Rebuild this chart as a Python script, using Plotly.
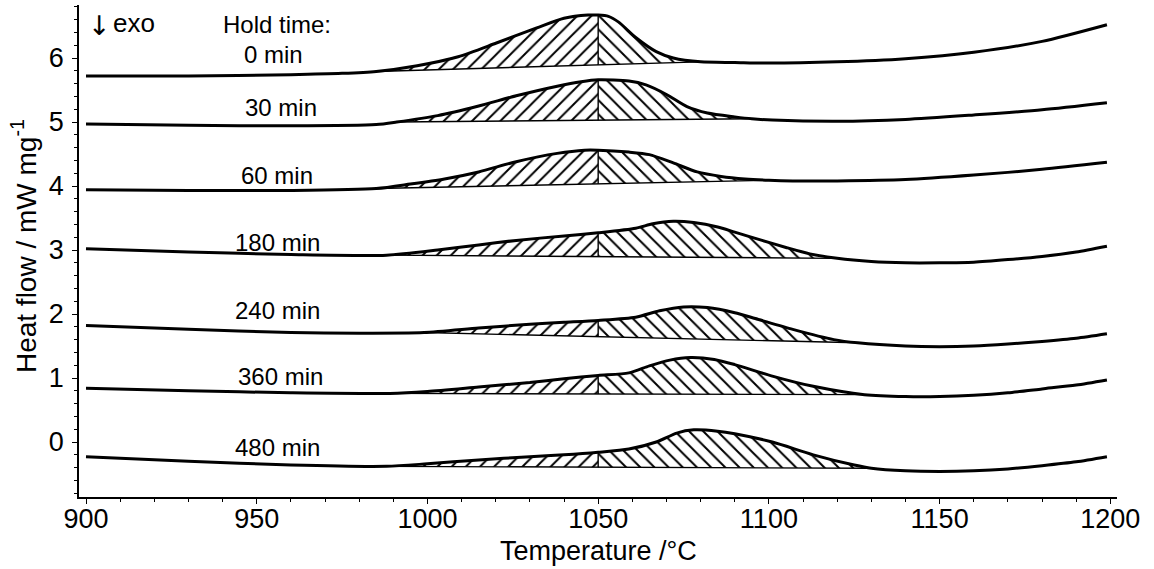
import plotly.graph_objects as go

# ---------------- data ----------------
hold_labels = ["0 min", "30 min", "60 min", "180 min", "240 min", "360 min", "480 min"]

t_0 = [900, 930, 960, 975, 985, 997, 1009, 1020, 1032, 1040, 1047, 1050, 1053, 1056, 1061, 1067, 1072, 1080, 1090, 1100, 1120, 1140, 1160, 1180, 1199]
hf_0 = [5.72, 5.72, 5.74, 5.76, 5.79, 5.88, 6.02, 6.23, 6.47, 6.62, 6.67, 6.67, 6.65, 6.56, 6.32, 6.10, 6.00, 5.94, 5.93, 5.92, 5.94, 5.99, 6.09, 6.26, 6.52]

t_30 = [900, 930, 960, 985, 991, 1003, 1015, 1026, 1038, 1045, 1050, 1059, 1064, 1070, 1076, 1082, 1090, 1095, 1101, 1120, 1140, 1160, 1180, 1199]
hf_30 = [4.97, 4.95, 4.94, 4.96, 5.00, 5.10, 5.25, 5.41, 5.56, 5.63, 5.66, 5.64, 5.58, 5.43, 5.24, 5.14, 5.08, 5.05, 5.03, 5.01, 5.04, 5.11, 5.19, 5.30]

t_60 = [900, 930, 960, 985, 995, 1005, 1015, 1026, 1038, 1046, 1050, 1059, 1065, 1072, 1079, 1086, 1093, 1100, 1107, 1120, 1140, 1160, 1180, 1199]
hf_60 = [3.94, 3.93, 3.93, 3.96, 4.03, 4.11, 4.22, 4.38, 4.51, 4.56, 4.56, 4.53, 4.49, 4.36, 4.22, 4.15, 4.11, 4.09, 4.08, 4.08, 4.10, 4.17, 4.26, 4.37]

t_180 = [900, 930, 960, 988, 1003, 1015, 1026, 1040, 1050, 1061, 1066, 1072, 1078, 1085, 1090, 1098, 1105, 1112, 1120, 1130, 1140, 1150, 1160, 1170, 1180, 1190, 1199]
hf_180 = [3.02, 2.97, 2.93, 2.92, 3.00, 3.08, 3.15, 3.22, 3.27, 3.34, 3.41, 3.45, 3.43, 3.36, 3.28, 3.15, 3.04, 2.94, 2.87, 2.82, 2.80, 2.80, 2.81, 2.85, 2.90, 2.97, 3.06]

t_240 = [900, 930, 960, 980, 999, 1015, 1030, 1040, 1050, 1061, 1068, 1075, 1082, 1090, 1096, 1107, 1119, 1126, 1140, 1150, 1160, 1170, 1180, 1190, 1199]
hf_240 = [1.82, 1.76, 1.71, 1.70, 1.71, 1.78, 1.84, 1.87, 1.90, 1.95, 2.05, 2.11, 2.10, 2.02, 1.93, 1.76, 1.60, 1.55, 1.50, 1.49, 1.50, 1.53, 1.57, 1.62, 1.69]

t_360 = [900, 930, 960, 989, 1000, 1015, 1030, 1040, 1050, 1059, 1065, 1071, 1077, 1084, 1090, 1101, 1113, 1128, 1140, 1150, 1160, 1170, 1180, 1190, 1199]
hf_360 = [0.84, 0.80, 0.77, 0.76, 0.79, 0.86, 0.93, 0.99, 1.04, 1.08, 1.19, 1.28, 1.32, 1.29, 1.21, 1.03, 0.87, 0.74, 0.71, 0.71, 0.73, 0.77, 0.83, 0.89, 0.97]

t_480 = [900, 930, 960, 988, 1000, 1015, 1030, 1040, 1050, 1059, 1067, 1073, 1078, 1085, 1090, 1101, 1113, 1125, 1130, 1140, 1150, 1160, 1170, 1180, 1190, 1199]
hf_480 = [-0.23, -0.30, -0.36, -0.38, -0.34, -0.28, -0.23, -0.20, -0.16, -0.11, 0.00, 0.14, 0.19, 0.17, 0.13, 0.00, -0.20, -0.36, -0.41, -0.45, -0.46, -0.45, -0.42, -0.37, -0.31, -0.23]

# integration limits (temperatures where the straight baseline meets the curve)
onset_t = [985, 991, 985, 988, 999, 989, 988]
end_t = [1080, 1095, 1100, 1120, 1126, 1128, 1130]
split_t = 1050

# label anchor positions (temperature, heat flow)
label_x = [955, 957, 956, 956, 956, 957, 956]
label_y = [6.06, 5.23, 4.17, 3.11, 2.05, 1.03, -0.09]

curves = [(t_0, hf_0), (t_30, hf_30), (t_60, hf_60), (t_180, hf_180),
          (t_240, hf_240), (t_360, hf_360), (t_480, hf_480)]

FONT = "Liberation Sans, Arial, sans-serif"

fig = go.Figure()

for (ts, hs), t_on, t_end in zip(curves, onset_t, end_t):
    y_on = hs[ts.index(t_on)]
    y_end = hs[ts.index(t_end)]

    def base(t):
        return y_on + (t - t_on) * (y_end - y_on) / (t_end - t_on)

    y_split = hs[ts.index(split_t)]
    # left part (hatched "/")
    lx = [t for t in ts if t_on <= t <= split_t]
    ly = [h for t, h in zip(ts, hs) if t_on <= t <= split_t]
    fig.add_trace(go.Scatter(
        x=lx + [split_t, t_on], y=ly + [base(split_t), y_on],
        mode="lines", fill="toself", line=dict(width=0, color="rgba(0,0,0,0)"),
        fillcolor="white",
        fillpattern=dict(shape="/", fgcolor="black", bgcolor="white", size=10,
                         solidity=0.2, fgopacity=1),
        hoverinfo="skip", showlegend=False))
    # right part (hatched "\")
    rx = [t for t in ts if split_t <= t <= t_end]
    ry = [h for t, h in zip(ts, hs) if split_t <= t <= t_end]
    fig.add_trace(go.Scatter(
        x=rx + [t_end, split_t], y=ry + [y_end, base(split_t)],
        mode="lines", fill="toself", line=dict(width=0, color="rgba(0,0,0,0)"),
        fillcolor="white",
        fillpattern=dict(shape="\\", fgcolor="black", bgcolor="white", size=10,
                         solidity=0.2, fgopacity=1),
        hoverinfo="skip", showlegend=False))
    # baseline
    fig.add_trace(go.Scatter(x=[t_on, t_end], y=[y_on, y_end], mode="lines",
                             line=dict(color="black", width=1.4),
                             hoverinfo="skip", showlegend=False))
    # split line at 1050 °C
    fig.add_trace(go.Scatter(x=[split_t, split_t], y=[base(split_t), y_split], mode="lines",
                             line=dict(color="black", width=1.4),
                             hoverinfo="skip", showlegend=False))
    # DSC curve
    fig.add_trace(go.Scatter(x=ts, y=hs, mode="lines",
                             line=dict(color="black", width=3, shape="spline", smoothing=0.7),
                             showlegend=False))

annotations = []
for lab, lx_, ly_ in zip(hold_labels, label_x, label_y):
    annotations.append(dict(x=lx_, y=ly_, xref="x", yref="y", text=lab, showarrow=False,
                            xanchor="center", yanchor="middle",
                            font=dict(family=FONT, size=24, color="black")))
annotations.append(dict(x=956, y=6.53, xref="x", yref="y", text="Hold time:", showarrow=False,
                        xanchor="center", yanchor="middle",
                        font=dict(family=FONT, size=24, color="black")))
annotations.append(dict(x=900.0, y=6.5, xref="x", yref="y", text="\u2193", showarrow=False,
                        xanchor="left", yanchor="middle",
                        font=dict(family="DejaVu Sans", size=27, color="black")))
annotations.append(dict(x=907.2, y=6.55, xref="x", yref="y", text="exo", showarrow=False,
                        xanchor="left", yanchor="middle",
                        font=dict(family=FONT, size=26, color="black")))
annotations.append(dict(x=0.5, y=-0.109, xref="paper", yref="paper", text="Temperature /°C",
                        showarrow=False, xanchor="center", yanchor="middle",
                        font=dict(family=FONT, size=27, color="black")))
annotations.append(dict(x=-0.053, y=0.51, xref="paper", yref="paper",
                        text="Heat flow / mW mg<sup>-1</sup>", textangle=-90,
                        showarrow=False, xanchor="center", yanchor="middle",
                        font=dict(family=FONT, size=28, color="black")))

fig.update_layout(
    width=1154, height=569,
    margin=dict(l=79, r=37, t=5, b=72),
    paper_bgcolor="white", plot_bgcolor="white",
    annotations=annotations,
    xaxis=dict(range=[897.95, 1201.95], tickvals=[900, 950, 1000, 1050, 1100, 1150, 1200],
               ticks="outside", ticklen=5, tickwidth=1.3, tickcolor="black",
               showline=True, linecolor="black", linewidth=1.5, showgrid=False, zeroline=False,
               minor=dict(tick0=900, dtick=10, ticks="outside", ticklen=3, tickwidth=1, tickcolor="black"),
               tickfont=dict(family=FONT, size=27, color="black"), ticklabelstandoff=-8),
    yaxis=dict(range=[-0.859, 6.828], tickvals=[0, 1, 2, 3, 4, 5, 6],
               ticks="outside", ticklen=5, tickwidth=1.3, tickcolor="black",
               showline=True, linecolor="black", linewidth=1.5, showgrid=False, zeroline=False,
               minor=dict(tick0=0, dtick=0.2, ticks="outside", ticklen=3, tickwidth=1, tickcolor="black"),
               tickfont=dict(family=FONT, size=27, color="black"), ticklabelstandoff=3),
)

fig.write_html("out.html")
